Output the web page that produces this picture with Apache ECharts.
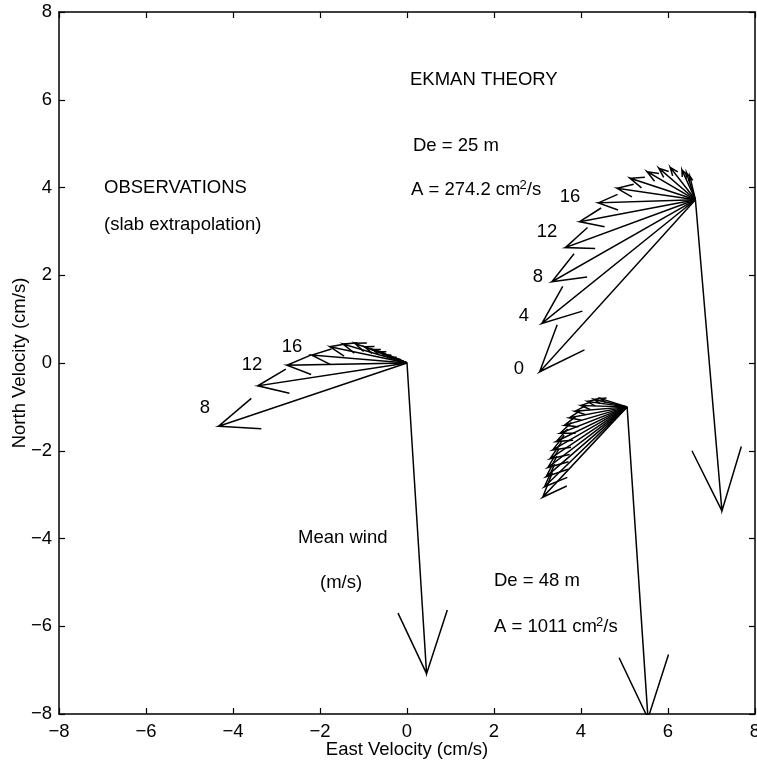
<!DOCTYPE html>
<html>
<head>
<meta charset="utf-8">
<script src="https://cdn.jsdelivr.net/npm/echarts@6/dist/echarts.min.js"></script>
<style>
  html, body { margin: 0; padding: 0; background: #fff; }
  #chart { width: 757px; height: 763px; }
</style>
</head>
<body>
<div id="chart"></div>
<script>
// observations (slab extrapolation), arrows from the origin, depths 8,12,16,...
var obsOrigin = [0, 0];
var obsTipX = [-4.33, -3.43, -2.76, -2.19, -1.77, -1.47, -1.20, -0.97, -0.78, -0.62, -0.47, -0.31, -0.20];
var obsTipY = [-1.44, -0.52, -0.05, 0.18, 0.37, 0.43, 0.45, 0.37, 0.31, 0.26, 0.18, 0.13, 0.09];

// Ekman theory, De = 25 m
var ek25Origin = [6.63, 3.72];
var ek25TipX = [3.05, 3.10, 3.33, 3.64, 3.97, 4.40, 4.83, 5.13, 5.52, 5.79, 6.05, 6.32, 6.42, 6.50];
var ek25TipY = [-0.20, 0.90, 1.85, 2.63, 3.22, 3.65, 3.98, 4.21, 4.36, 4.44, 4.46, 4.40, 4.34, 4.26];

// Ekman theory, De = 48 m
var ek48Origin = [5.06, -1.00];
var ek48TipX = [3.12, 3.16, 3.20, 3.24, 3.29, 3.35, 3.43, 3.52, 3.62, 3.73, 3.86, 4.00, 4.15, 4.30, 4.45];
var ek48TipY = [-3.06, -2.82, -2.59, -2.38, -2.18, -1.98, -1.79, -1.60, -1.42, -1.25, -1.10, -0.97, -0.88, -0.83, -0.81];

// mean wind (m/s), one per panel: origin x, origin y, tip x, tip y
var windObs = [0, 0, 0.45, -7.08];
var wind25 = [6.63, 3.72, 7.24, -3.37];
var wind48 = [5.06, -1.00, 5.54, -8.10];

function arrow(x0, y0, x1, y1) {
  var u = x1 - x0, v = y1 - y0, a = 0.2, b = 0.4;
  return [[x0, y0], [x1, y1],
          [x1 - a * (u + b * v), y1 - a * (v - b * u)],
          [x1, y1],
          [x1 - a * (u - b * v), y1 - a * (v + b * u)]];
}

var arrows = [];
function fan(o, xs, ys) {
  for (var i = 0; i < xs.length; i++) {
    arrows.push({ coords: arrow(o[0], o[1], xs[i], ys[i]) });
  }
}
fan(obsOrigin, obsTipX, obsTipY);
fan(ek25Origin, ek25TipX, ek25TipY);
fan(ek48Origin, ek48TipX, ek48TipY);
[windObs, wind25, wind48].forEach(function (w) {
  arrows.push({ coords: arrow(w[0], w[1], w[2], w[3]) });
});

var font = 'Liberation Sans, Arial, Helvetica, sans-serif';
var fs = 18.5;
function minus(v) { return String(v).replace('-', '\u2212'); }

function txt(x, y, s, align) {
  return {
    type: 'text', x: x, y: y,
    style: { text: s, font: fs + 'px ' + font, fill: '#000',
             align: align || 'left', verticalAlign: 'middle' },
    z: 10
  };
}
function supTxt(x, y, before, after) {
  return {
    type: 'text', x: x, y: y,
    style: {
      text: '{n|' + before + '}{s|2}{n|' + after + '}',
      fill: '#000', align: 'left', verticalAlign: 'middle',
      rich: {
        n: { fontSize: fs, fontFamily: font, fill: '#000', lineHeight: 22 },
        s: { fontSize: 13, fontFamily: font, fill: '#000', lineHeight: 13,
             verticalAlign: 'top', padding: [0, 0, 0, -1] }
      }
    },
    z: 10
  };
}

var myChart = echarts.init(document.getElementById('chart'));

var axisCommon = {
  type: 'value', min: -8, max: 8, interval: 2,
  axisLine: { show: true, onZero: false, lineStyle: { color: '#000', width: 1.5 } },
  axisTick: { show: true, inside: true, length: 6, lineStyle: { color: '#000', width: 1.2 } },
  splitLine: { show: false }
};

option = {
  backgroundColor: '#fff',
  animation: false,
  grid: { left: 59, right: 2, top: 12, bottom: 49, containLabel: false, outerBoundsMode: 'none' },
  xAxis: [
    echarts.util.merge({
      position: 'bottom',
      name: 'East Velocity (cm/s)', nameLocation: 'middle', nameGap: 26, nameMoveOverlap: false,
      nameTextStyle: { color: '#000', fontSize: fs, fontFamily: font },
      axisLabel: { color: '#000', fontSize: fs, fontFamily: font, margin: 8, formatter: minus }
    }, axisCommon, true),
    echarts.util.merge({ position: 'top', axisLabel: { show: false } }, axisCommon, true)
  ],
  yAxis: [
    echarts.util.merge({
      position: 'left',
      name: 'North Velocity (cm/s)', nameLocation: 'middle', nameGap: 30, nameRotate: 90, nameMoveOverlap: false,
      nameTextStyle: { color: '#000', fontSize: fs, fontFamily: font },
      axisLabel: { color: '#000', fontSize: fs, fontFamily: font, margin: 7, formatter: minus }
    }, axisCommon, true),
    echarts.util.merge({ position: 'right', axisLabel: { show: false } }, axisCommon, true)
  ],
  graphic: [
    txt(410, 80, 'EKMAN THEORY'),
    txt(413, 146, 'De = 25 m'),
    supTxt(411, 190, 'A = 274.2 cm', '/s'),
    txt(104, 188, 'OBSERVATIONS'),
    txt(104, 225, '(slab extrapolation)'),
    txt(298, 538, 'Mean wind'),
    txt(320, 583, '(m/s)'),
    txt(494, 581, 'De = 48 m'),
    supTxt(494, 627, 'A = 1011 cm', '/s'),
    txt(205, 408, '8', 'center'),
    txt(252, 365, '12', 'center'),
    txt(292, 347, '16', 'center'),
    txt(519, 369, '0', 'center'),
    txt(524, 316, '4', 'center'),
    txt(538, 277, '8', 'center'),
    txt(547, 232, '12', 'center'),
    txt(570, 197, '16', 'center')
  ],
  series: [{
    type: 'lines',
    coordinateSystem: 'cartesian2d',
    polyline: true,
    clip: true,
    silent: true,
    lineStyle: { color: '#000', width: 1.5, opacity: 1 },
    data: arrows
  }]
};

myChart.setOption(option);
</script>
</body>
</html>
